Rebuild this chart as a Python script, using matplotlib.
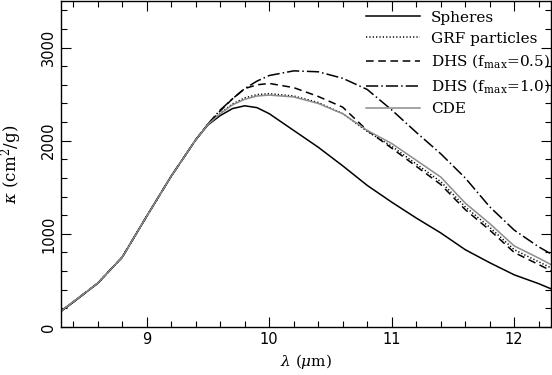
import matplotlib
matplotlib.use("Agg")
import matplotlib.pyplot as plt
from matplotlib.ticker import MultipleLocator

# wavelength grid (micron) and mass absorption coefficients (cm^2/g)
wavelength = [8.3, 8.4, 8.6, 8.8, 9.0, 9.2, 9.4, 9.5, 9.6, 9.7, 9.8, 9.9, 10.0,
              10.2, 10.4, 10.6, 10.8, 11.0, 11.2, 11.4, 11.6, 11.8, 12.0, 12.2, 12.3]
spheres = [170, 265, 470, 750, 1190, 1620, 2010, 2170, 2270, 2345, 2375, 2355, 2290,
           2110, 1930, 1730, 1520, 1340, 1170, 1010, 830, 690, 560, 465, 410]
grf = [170, 270, 470, 750, 1190, 1620, 2010, 2175, 2295, 2395, 2460, 2495, 2505,
       2480, 2410, 2290, 2100, 1940, 1750, 1560, 1290, 1070, 830, 700, 635]
dhs05 = [170, 270, 470, 750, 1190, 1620, 2010, 2180, 2320, 2450, 2560, 2600, 2615,
         2570, 2475, 2360, 2110, 1920, 1725, 1530, 1260, 1040, 800, 670, 605]
dhs10 = [170, 270, 470, 750, 1190, 1620, 2010, 2180, 2330, 2450, 2560, 2640, 2700,
         2750, 2740, 2670, 2550, 2330, 2090, 1860, 1600, 1290, 1040, 860, 785]
cde = [170, 270, 470, 750, 1190, 1620, 2010, 2175, 2290, 2385, 2445, 2480, 2490,
       2470, 2400, 2290, 2110, 1970, 1790, 1610, 1330, 1110, 870, 740, 670]

plt.rcParams['mathtext.fontset'] = 'dejavuserif'

fig = plt.figure(figsize=(5.52, 3.75), dpi=100)
ax = fig.add_axes([61 / 552, 1 - 327 / 375, 490 / 552, 326 / 375])

lw = 1.1
ax.plot(wavelength, spheres, color='black', lw=lw, label='Spheres')
ax.plot(wavelength, grf, color='black', lw=lw, linestyle=(0, (0.8, 1.4)),
        label='GRF particles')
ax.plot(wavelength, dhs05, color='black', lw=lw, linestyle=(0, (5, 3)),
        label=r'DHS (f$_{\rm max}$=0.5)')
ax.plot(wavelength, dhs10, color='black', lw=lw, linestyle=(0, (8, 2, 1, 2)),
        label=r'DHS (f$_{\rm max}$=1.0)')
ax.plot(wavelength, cde, color='#8c8c8c', lw=lw, label='CDE')

ax.set_xlim(8.3, 12.3)
ax.set_ylim(0, 3500)
ax.xaxis.set_major_locator(MultipleLocator(1))
ax.xaxis.set_minor_locator(MultipleLocator(0.2))
ax.yaxis.set_major_locator(MultipleLocator(1000))
ax.yaxis.set_minor_locator(MultipleLocator(200))
ax.tick_params(which='both', direction='in', top=True, right=True, width=0.8,
               labelsize=10.5)
ax.tick_params(which='major', length=7)
ax.tick_params(which='minor', length=4)
for lab in ax.get_yticklabels():
    lab.set_rotation(90)
    lab.set_verticalalignment('center')
for sp in ax.spines.values():
    sp.set_linewidth(1.0)

ax.set_xlabel(r'$\lambda$ ($\mu$m)', family='DejaVu Serif', fontsize=11)
ax.set_ylabel(r'$\kappa$ (cm$^2$/g)', family='DejaVu Serif', fontsize=12,
              labelpad=12)

leg = ax.legend(loc='upper right', bbox_to_anchor=(1.004, 0.98),
                frameon=False, handlelength=3.5, labelspacing=0.46,
                borderaxespad=0.0, borderpad=0.2, handletextpad=0.7,
                prop={'family': 'DejaVu Serif', 'size': 11})

fig.savefig('out.png', dpi=100)
